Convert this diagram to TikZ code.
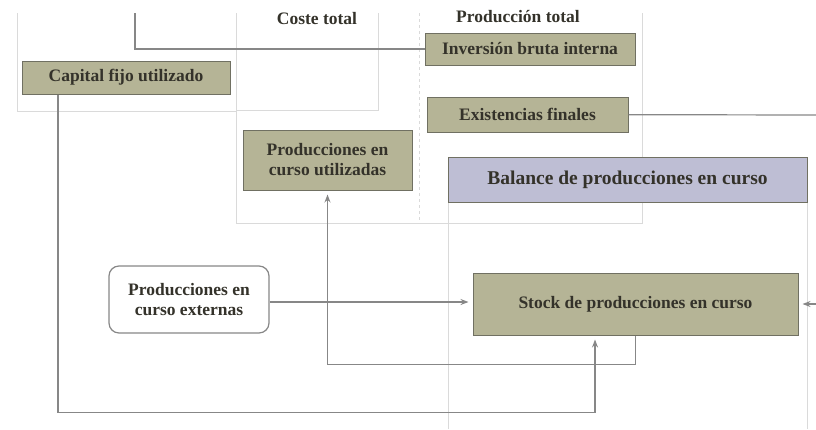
\documentclass[tikz,border=0pt]{standalone}
\usepackage{fontspec}
\setmainfont{Liberation Serif}
\usepackage{tikz}
\usetikzlibrary{arrows.meta}
\definecolor{caja}{RGB}{181,180,150}
\definecolor{borde}{RGB}{112,112,98}
\definecolor{lila}{RGB}{190,190,212}
\definecolor{linea}{RGB}{135,135,135}
\definecolor{marco}{RGB}{218,218,218}
\definecolor{texto}{RGB}{52,50,42}
\tikzset{
  caja/.style={draw=borde, fill=caja, line width=1pt},
  flecha/.style={draw=linea, line width=1.2pt, shorten >=4pt, -{Stealth[length=8pt,width=6pt]}},
  linea/.style={draw=linea, line width=1.2pt},
}

\begin{document}
\begin{tikzpicture}[x=1pt, y=-1pt, every node/.style={font=\bfseries\fontsize{17.5}{20}\selectfont, text=texto, align=center, inner sep=0pt}]
			\useasboundingbox (0,0) rectangle (816,429);
			% marcos
			\draw[marco, line width=1pt] (17,13) -- (17,111) -- (236,111);
			\draw[marco, line width=1pt] (236,13) -- (236,223) -- (642,223) -- (642,13);
			\draw[marco, line width=1pt] (236,110) -- (378,110) -- (378,13);
			\draw[marco, line width=1pt, dashed] (419,13) -- (419,223);
			\draw[marco, line width=1pt] (448,202) -- (448,429);
			\draw[marco, line width=1pt] (807,202) -- (807,429);
			\node(CT) at (317,19) {Coste total};
			\node(PT) at (518,17) {Producción total};
			% cajas
			\node[caja, minimum width=208, minimum height=33](CF) at (126,77.5) {Capital fijo utilizado};
			\node[caja, minimum width=210, minimum height=32](IB) at (530,49) {Inversión bruta interna};
			\node[caja, minimum width=201, minimum height=35](EF) at (527.5,114.5) {Existencias finales};
			\node[caja, minimum width=169, minimum height=60](PU) at (327.5,160) {Producciones en\\curso utilizadas};
			\node[caja, fill=lila, minimum width=359, minimum height=45, font=\bfseries\fontsize{19.5}{22}\selectfont](BP) at (627.5,179.5) {Balance de producciones en curso};
			\node[caja, minimum width=325, minimum height=62](SP) at (635.5,304) {Stock de producciones en curso};
			\node[draw=linea, line width=1.2pt, fill=white, rounded corners=10pt, minimum width=160, minimum height=67](PE) at (189,299.5) {Producciones en\\curso externas};
			% conexiones
			\coordinate(T) at (135,13);
			\coordinate(R1) at (816,115);
			\coordinate(R2) at (816,304);
			\draw[linea](T) |- (IB);
			\draw[linea](EF) -- (R1);
			\draw[flecha](R2) -- (SP);
			\draw[flecha](PE.east |- 0,302) -- (SP.west |- 0,302);
			\draw[flecha](SP.south) -- ++(0,29) -| (PU.south);
			\draw[flecha]([xshift=-68pt]CF.south) -- ++(0,318) -| ([xshift=-40.5pt]SP.south);
		\end{tikzpicture}
\end{document}
